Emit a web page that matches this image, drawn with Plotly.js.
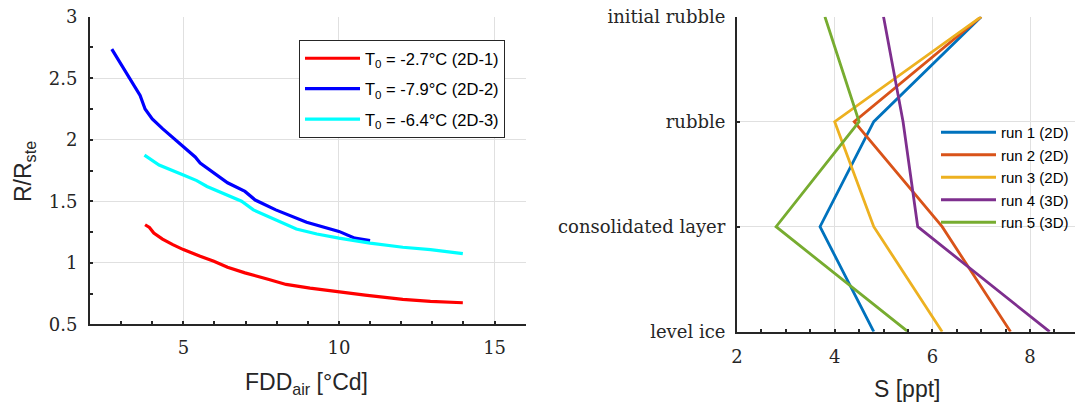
<!DOCTYPE html>
<html>
<head>
<meta charset="utf-8">
<script src="https://cdn.plot.ly/plotly-3.0.1.min.js"></script>
<style>html,body{margin:0;padding:0;background:#fff;}#chart{width:1075px;height:405px;}</style>
</head>
<body>
<div id="chart"></div>
<script>
// ---- Left panel data: R/R_ste vs FDD_air ----
const fdd1 = [3.77, 3.91, 4.05, 4.33, 4.66, 5.0, 5.54, 5.98, 6.42, 6.98, 7.75, 8.30, 9.07, 10.0, 10.84, 12.05, 12.94, 13.98];
const r1   = [1.309, 1.287, 1.242, 1.193, 1.147, 1.107, 1.053, 1.012, 0.964, 0.918, 0.864, 0.824, 0.794, 0.762, 0.737, 0.702, 0.686, 0.675];
const fdd2 = [2.70, 3.06, 3.39, 3.61, 3.77, 4.0, 4.33, 4.66, 5.0, 5.38, 5.54, 5.98, 6.42, 6.98, 7.31, 7.97, 8.63, 8.96, 10.0, 10.51, 11.0];
const r2   = [2.737, 2.59, 2.455, 2.36, 2.25, 2.17, 2.09, 2.02, 1.94, 1.86, 1.81, 1.73, 1.65, 1.58, 1.51, 1.43, 1.36, 1.33, 1.255, 1.20, 1.18];
const fdd3 = [3.75, 4.22, 5.0, 5.43, 5.76, 6.42, 6.87, 7.25, 7.97, 8.63, 9.29, 10.0, 11.0, 12.05, 12.94, 13.98];
const r3   = [1.875, 1.795, 1.714, 1.668, 1.62, 1.55, 1.50, 1.43, 1.35, 1.274, 1.234, 1.20, 1.16, 1.126, 1.107, 1.074];
const leftNames = ['T<sub>0</sub> = -2.7°C (2D-1)', 'T<sub>0</sub> = -7.9°C (2D-2)', 'T<sub>0</sub> = -6.4°C (2D-3)'];

// ---- Right panel data: salinity profiles ----
const layers = ['level ice', 'consolidated layer', 'rubble', 'initial rubble'];
const run1 = [4.8, 3.7, 4.8, 7.0];
const run2 = [7.6, 6.2, 4.4, 7.0];
const run3 = [6.2, 4.8, 4.0, 7.0];
const run4 = [8.4, 5.7, 5.4, 5.0];
const run5 = [5.5, 2.8, 4.5, 3.8];
const runNames = ['run 1 (2D)', 'run 2 (2D)', 'run 3 (2D)', 'run 4 (3D)', 'run 5 (3D)'];

const axCol = '#262626';
const gridCol = '#e0e0e0';
const serif = 'DejaVu Serif, serif';
const sans = 'Liberation Sans, Arial, sans-serif';

const leftColors = ['#ff0000', '#0000ff', '#00ffff'];
const rightColors = ['#0072bd', '#d95319', '#edb120', '#7e2f8e', '#77ac30'];

const leftX = [fdd1, fdd2, fdd3];
const leftY = [r1, r2, r3];
const runs = [run1, run2, run3, run4, run5];

const traces = [];
for (let i = 0; i < 3; i++) {
  traces.push({
    x: leftX[i], y: leftY[i], type: 'scatter', mode: 'lines',
    name: leftNames[i], line: {color: leftColors[i], width: 3.2},
    xaxis: 'x', yaxis: 'y', legend: 'legend', legendgroup: 'l' + i
  });
}
for (let i = 0; i < 5; i++) {
  traces.push({
    x: runs[i], y: layers, type: 'scatter', mode: 'lines',
    name: runNames[i], line: {color: rightColors[i], width: 2.8},
    xaxis: 'x2', yaxis: 'y2', legend: 'legend2', legendgroup: 'r' + i
  });
}

const W = 1075, H = 405;
const px = v => v / W;
const py = v => (H - v) / H;

const common = {
  showline: true, linecolor: axCol, linewidth: 2, mirror: false,
  ticks: 'inside', ticklen: 3, tickwidth: 2, tickcolor: axCol,
  showgrid: true, gridcolor: gridCol, gridwidth: 1, zeroline: false,
  tickfont: {family: serif, size: 18, color: axCol}
};

const layout = {
  width: W, height: H,
  margin: {l: 0, r: 0, t: 0, b: 0},
  paper_bgcolor: '#fff', plot_bgcolor: '#fff',
  showlegend: true,
  xaxis: Object.assign({}, common, {
    domain: [px(90), px(525.7)], range: [2, 16], tickmode: 'linear', tick0: 0, dtick: 5,
    anchor: 'y', ticklabelstandoff: 6,
    minor: {dtick: 1, tick0: 0, ticks: 'inside', ticklen: 3, tickwidth: 2, tickcolor: axCol, showgrid: false}
  }),
  yaxis: Object.assign({}, common, {
    domain: [py(324.3), py(16.7)], range: [0.5, 3], tickmode: 'linear', tick0: 0.5, dtick: 0.5,
    anchor: 'x', ticklabelstandoff: 7,
    minor: {dtick: 0.25, tick0: 0, ticks: 'inside', ticklen: 3, tickwidth: 2, tickcolor: axCol, showgrid: false}
  }),
  xaxis2: Object.assign({}, common, {
    domain: [px(737), 1], range: [2, 8.92], tickmode: 'linear', tick0: 0, dtick: 2,
    anchor: 'y2', ticklabelstandoff: 8,
    minor: {dtick: 0.5, tick0: 0, ticks: 'inside', ticklen: 3, tickwidth: 2, tickcolor: axCol, showgrid: false}
  }),
  yaxis2: Object.assign({}, common, {
    domain: [py(331.7), py(16.7)], type: 'category', categoryorder: 'array', categoryarray: layers,
    range: [0, 3], anchor: 'x2', ticklabelstandoff: 6
  }),
  legend: {
    x: px(299), y: py(40), xanchor: 'left', yanchor: 'top',
    bgcolor: '#fff', bordercolor: axCol, borderwidth: 1,
    font: {family: sans, size: 16.5, color: '#000'}, itemwidth: 55, tracegroupgap: 6,
    traceorder: 'grouped'
  },
  legend2: {
    x: px(936), y: py(116), xanchor: 'left', yanchor: 'top',
    bgcolor: 'rgba(0,0,0,0)', borderwidth: 0,
    font: {family: sans, size: 15, color: '#000'}, itemwidth: 55, tracegroupgap: 0,
    traceorder: 'normal'
  },
  annotations: [
    {text: 'FDD<sub>air</sub> [°Cd]', xref: 'paper', yref: 'paper', x: px(306), y: py(383),
     xanchor: 'center', yanchor: 'middle', showarrow: false, font: {family: sans, size: 23, color: axCol}},
    {text: 'R/R<sub>ste</sub>', xref: 'paper', yref: 'paper', x: px(24), y: py(172),
     xanchor: 'center', yanchor: 'middle', textangle: -90, showarrow: false, font: {family: sans, size: 23, color: axCol}},
    {text: 'S [ppt]', xref: 'paper', yref: 'paper', x: px(907.4), y: py(389),
     xanchor: 'center', yanchor: 'middle', showarrow: false, font: {family: sans, size: 23, color: axCol}}
  ]
};

Plotly.newPlot('chart', traces, layout, {displayModeBar: false, staticPlot: true});
</script>
</body>
</html>
